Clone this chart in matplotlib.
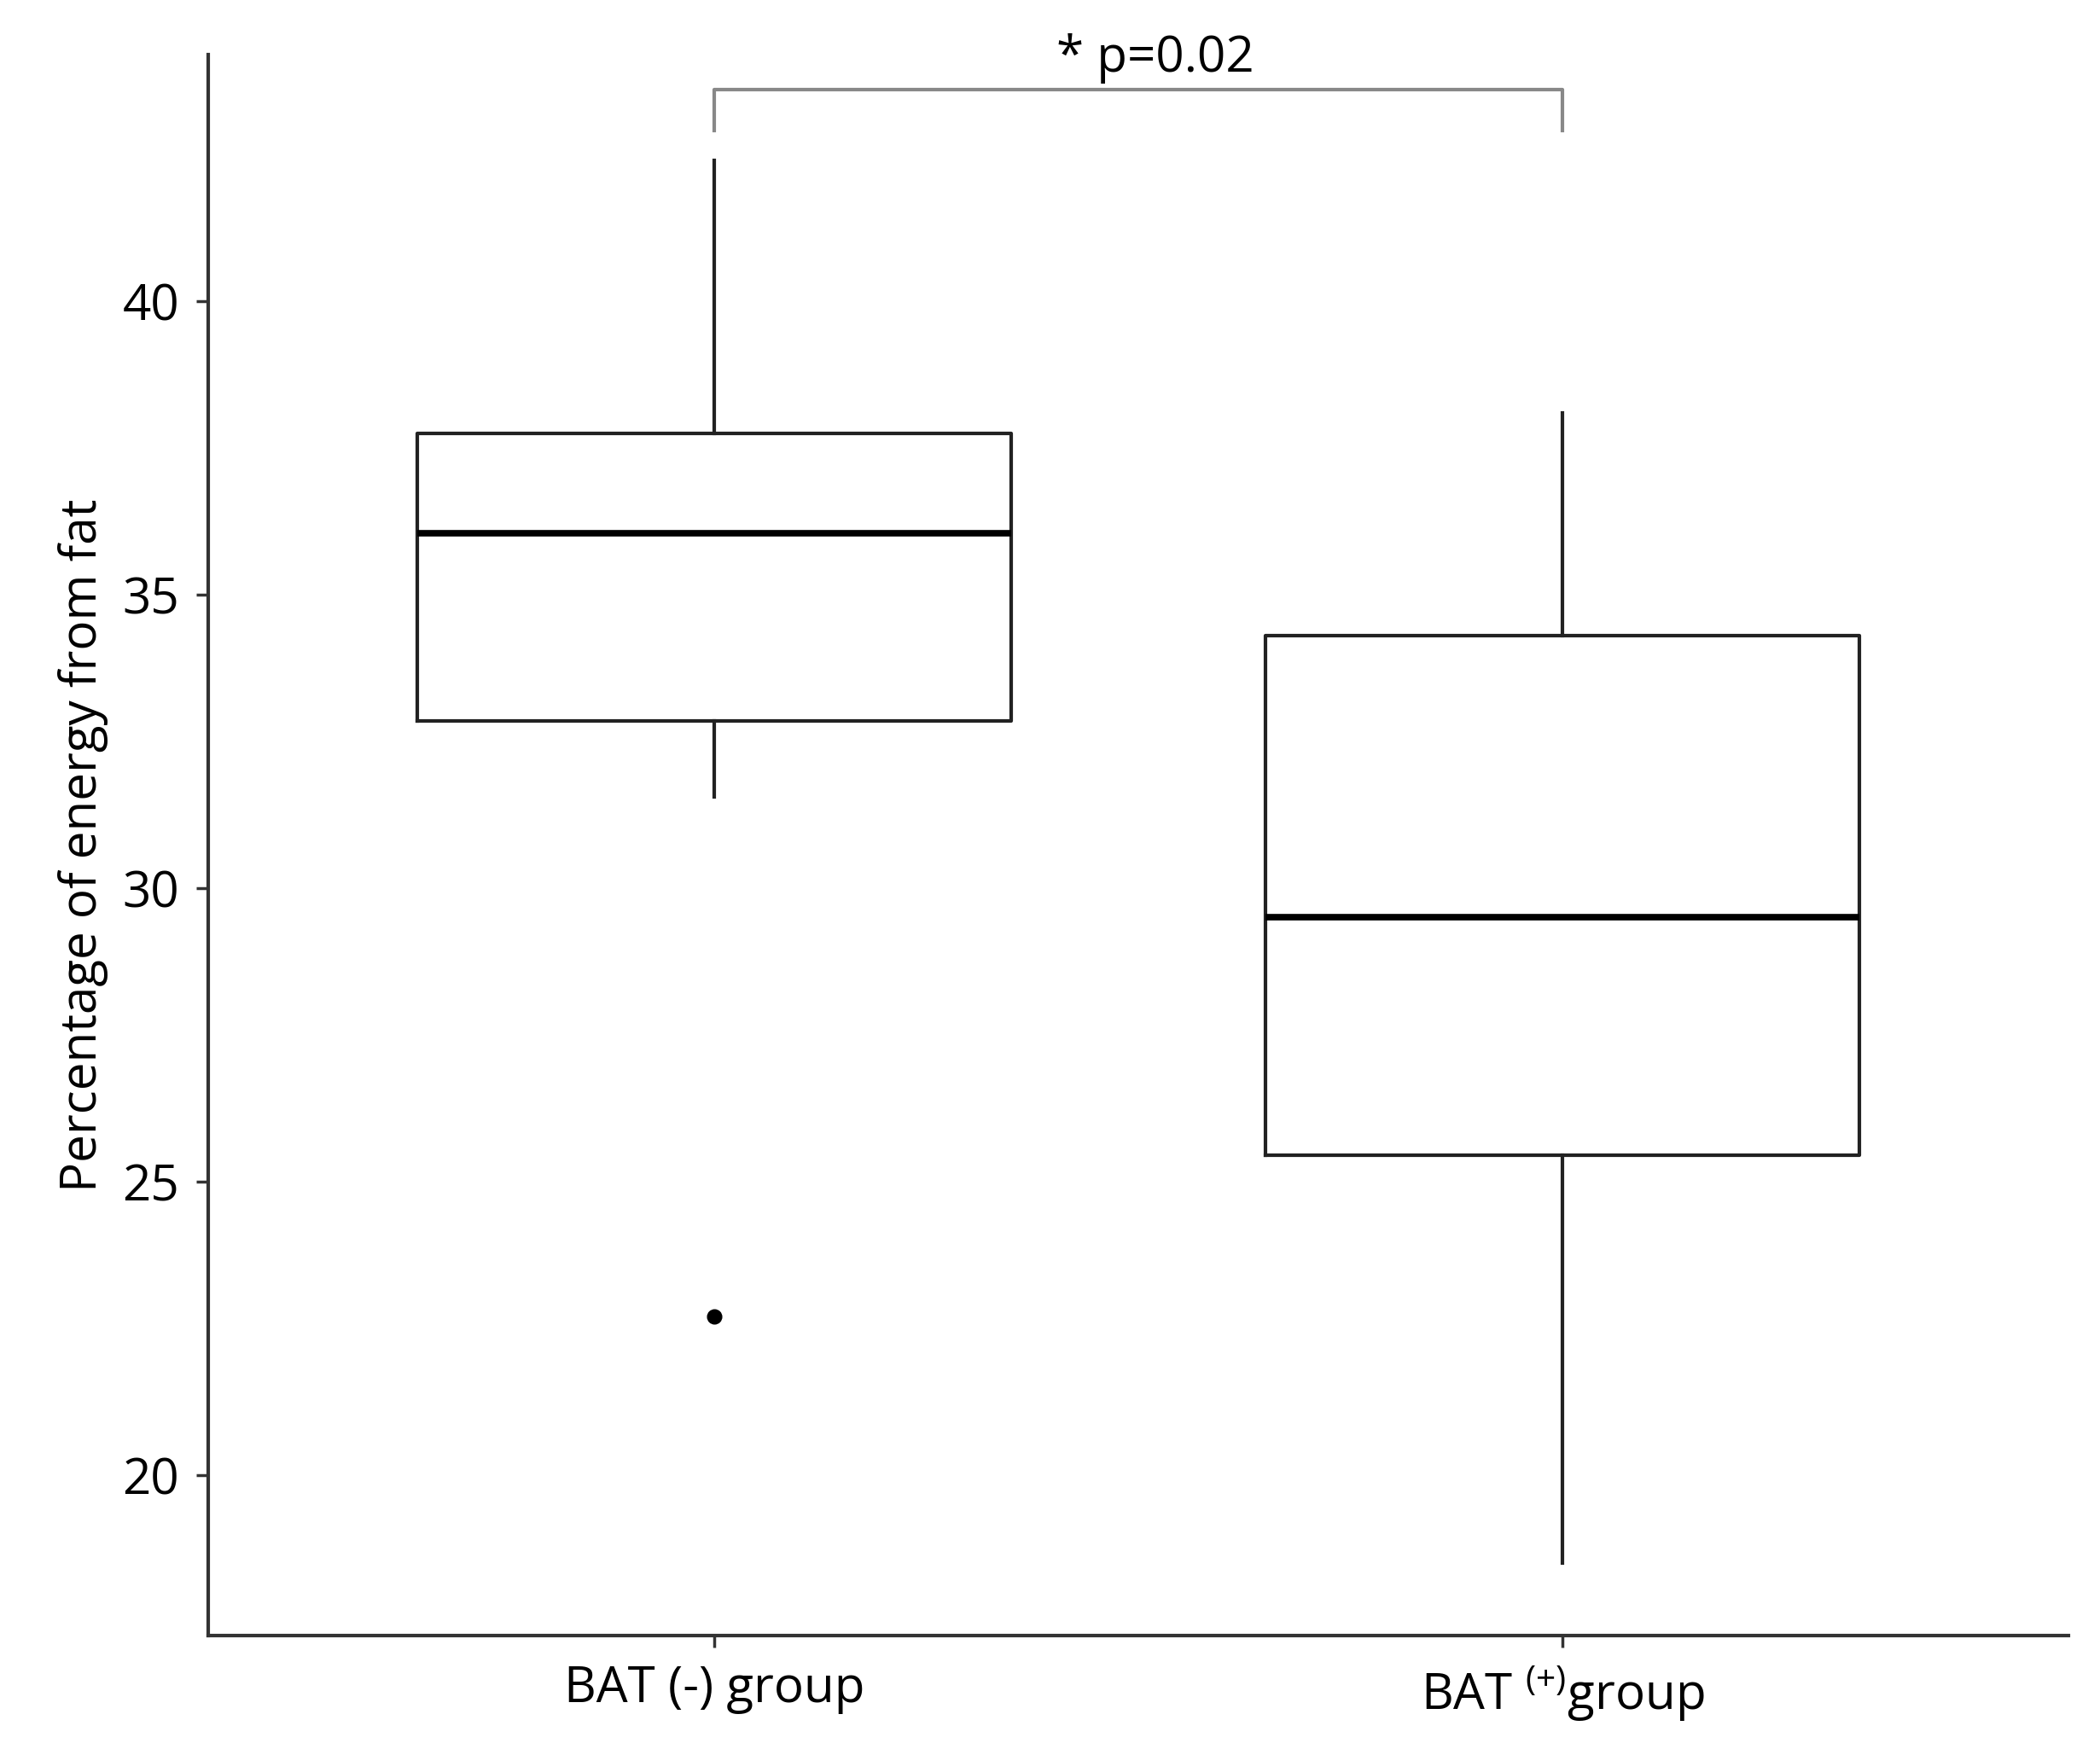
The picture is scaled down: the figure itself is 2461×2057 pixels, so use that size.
import matplotlib
matplotlib.use('Agg')
import matplotlib.pyplot as plt

plt.rcParams['font.family'] = ['Open Sans', 'DejaVu Sans']
plt.rcParams['mathtext.fontset'] = 'custom'
plt.rcParams['mathtext.rm'] = 'Open Sans'

groups = ['BAT (-) group', 'BAT $^{\\mathregular{(+)}}$group']
q1 = [32.85, 25.45]
med = [36.05, 29.5]
q3 = [37.75, 34.3]
whislo = [31.55, 18.5]
whishi = [42.4, 38.1]
fliers = [[22.7], []]
p_text = '* p=0.02'

stats = []
for i in range(len(groups)):
    stats.append({'q1': q1[i], 'med': med[i], 'q3': q3[i],
                  'whislo': whislo[i], 'whishi': whishi[i], 'fliers': fliers[i]})

fig = plt.figure(figsize=(24.61, 20.57), dpi=100)
ax = fig.add_axes([0.099, 0.068, 0.886, 0.901])
ax.bxp(stats, positions=[1, 2], widths=0.70, showcaps=False,
       boxprops=dict(color='#222222', linewidth=3),
       whiskerprops=dict(color='#222222', linewidth=3),
       medianprops=dict(color='black', linewidth=5.5),
       flierprops=dict(marker='o', markerfacecolor='black', markeredgecolor='black', markersize=12))

ax.set_xlim(0.403, 2.597)
ax.set_ylim(17.27, 44.2)
ax.set_yticks([20, 25, 30, 35, 40])
ax.set_xticks([1, 2])
ax.set_xticklabels(groups)
ax.tick_params(labelsize=42, width=2.5, length=10, colors='#333333', labelcolor='black', pad=14)
ax.set_ylabel('Percentage of energy from fat', fontsize=42, labelpad=12)
for s in ['top', 'right']:
    ax.spines[s].set_visible(False)
for s in ['left', 'bottom']:
    ax.spines[s].set_linewidth(3)
    ax.spines[s].set_color('#333333')

# significance bracket
ax.plot([1, 1, 2, 2], [42.9, 43.6, 43.6, 42.9], color='#888888', linewidth=3, clip_on=False)
ax.text(1.52, 43.7, p_text, ha='center', va='bottom', fontsize=42, clip_on=False)

fig.savefig('out.png', dpi=100)
